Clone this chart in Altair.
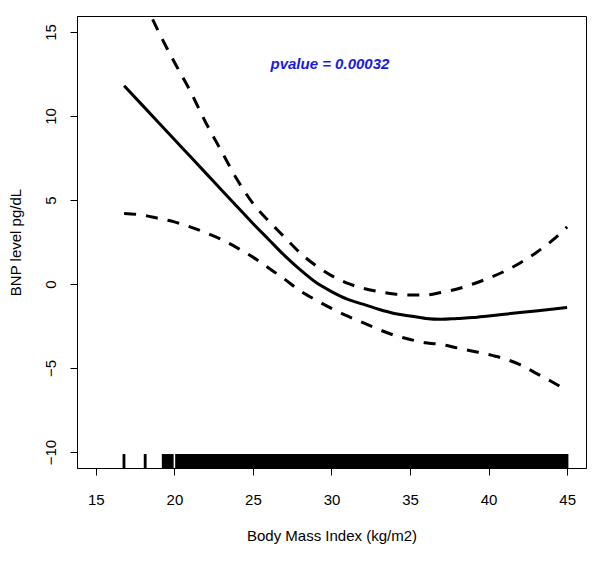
import altair as alt
import pandas as pd

# fitted curve and confidence band
bmi = [16.8, 18, 19, 20, 21, 22, 23, 24, 25, 26, 27, 28, 29, 30, 31, 32, 33,
       34, 35, 36, 37, 38, 39, 40, 41, 42, 43, 44, 45]
fit = [11.8, 10.6, 9.6, 8.6, 7.6, 6.6, 5.6, 4.6, 3.6, 2.65, 1.7, 0.85, 0.1,
       -0.45, -0.9, -1.2, -1.5, -1.75, -1.9, -2.05, -2.1, -2.05, -2.0, -1.9,
       -1.8, -1.7, -1.6, -1.5, -1.4]
upper = [19.3, 17.0, 15.0, 13.2, 11.5, 9.6, 7.9, 6.2, 4.8, 3.75, 2.8, 1.85,
         1.1, 0.5, 0.05, -0.25, -0.45, -0.6, -0.65, -0.65, -0.5, -0.3, 0.0,
         0.35, 0.75, 1.25, 1.85, 2.55, 3.4]
lower = [4.2, 4.1, 3.9, 3.7, 3.4, 3.05, 2.65, 2.15, 1.6, 0.95, 0.3, -0.4,
         -0.95, -1.45, -1.9, -2.3, -2.7, -3.05, -3.3, -3.5, -3.6, -3.8, -4.0,
         -4.2, -4.45, -4.8, -5.3, -5.8, -6.35]

# rug of observed BMI values (isolated ticks and the dense block)
rug_start = [16.7, 18.05, 19.2, 20.05]
rug_end = [16.88, 18.23, 19.95, 45.08]

x_ticks = [15, 20, 25, 30, 35, 40, 45]
y_ticks = [-10, -5, 0, 5, 10, 15]
x_domain = [13.8, 46.2]
y_domain = [-10.95, 15.95]

annot_text = ["pvalue = 0.00032"]
annot_x = [29.9]
annot_y = [13.1]

FONT = "Liberation Sans"

fit_df = pd.DataFrame({"bmi": bmi, "fit": fit})
band_df = pd.concat([
    pd.DataFrame({"bmi": bmi, "val": upper, "side": "upper"}),
    pd.DataFrame({"bmi": bmi, "val": lower, "side": "lower"}),
])
rug_df = pd.DataFrame({"start": rug_start, "end": rug_end})
ann_df = pd.DataFrame({"t": annot_text, "x": annot_x, "y": annot_y})

xs = alt.Scale(domain=x_domain, nice=False, zero=False)
ys = alt.Scale(domain=y_domain, nice=False, zero=False)

x_axis = alt.Axis(values=x_ticks, title="Body Mass Index (kg/m2)", grid=False,
                  labelPadding=17, titlePadding=21)
y_axis = alt.Axis(values=y_ticks, title="BNP level pg/dL", grid=False,
                  labelAngle=-90, labelAlign="center", labelBaseline="bottom",
                  labelPadding=12, titlePadding=20)

solid = alt.Chart(fit_df).mark_line(color="black", strokeWidth=3, clip=True,
                                    interpolate="monotone").encode(
    x=alt.X("bmi:Q", scale=xs, axis=x_axis),
    y=alt.Y("fit:Q", scale=ys, axis=y_axis),
)

dashed = alt.Chart(band_df).mark_line(color="black", strokeWidth=3,
                                      strokeDash=[12, 10], clip=True,
                                      interpolate="monotone").encode(
    x=alt.X("bmi:Q", scale=xs),
    y=alt.Y("val:Q", scale=ys),
    detail="side:N",
)

rug = alt.Chart(rug_df).mark_rect(color="black", clip=True).encode(
    x=alt.X("start:Q", scale=xs),
    x2="end:Q",
    y=alt.Y(datum=-10.12, scale=ys),
    y2=alt.Y2(datum=-10.95),
)

ann = alt.Chart(ann_df).mark_text(font=FONT, fontSize=15, fontWeight="bold",
                                  fontStyle="italic", color="#1a1ae6").encode(
    x=alt.X("x:Q", scale=xs),
    y=alt.Y("y:Q", scale=ys),
    text="t:N",
)

chart = alt.layer(rug, dashed, solid, ann).properties(
    width=509, height=452,
    autosize=alt.AutoSizeParams(type="none"),
    padding={"left": 69, "top": 8, "right": 6, "bottom": 80},
).configure_view(
    stroke="black", strokeWidth=1
).configure_axis(
    domainColor="black", tickColor="black", tickSize=7, tickWidth=1,
    labelColor="black", titleColor="black", labelFont=FONT, titleFont=FONT,
    labelFontSize=15, titleFontSize=15, titleFontWeight="normal",
)

chart.save("out.html", embed_options={"renderer": "svg", "actions": False})
